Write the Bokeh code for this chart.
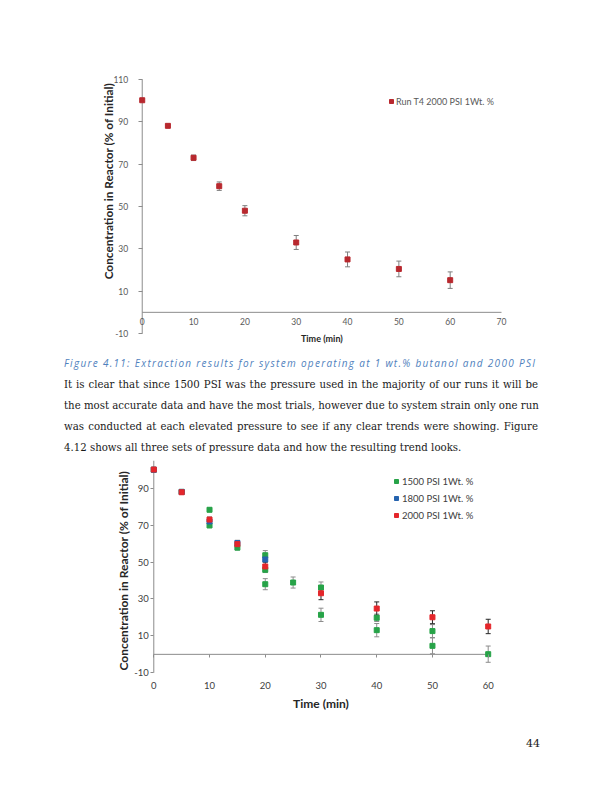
import math
from bokeh.plotting import figure
from bokeh.models import (ColumnDataSource, Whisker, TeeHead, FixedTicker, LinearAxis,
                          Label, Legend, LegendItem, Div, Range1d)
from bokeh.layouts import column
from bokeh.embed import file_html
from bokeh.resources import INLINE

# ---------------- data ----------------
fig1_time = [0, 5, 10, 15, 20, 30, 40, 50, 60]
fig1_conc = [100.2, 88.1, 73.0, 59.6, 48.0, 33.0, 25.0, 20.5, 15.2]
fig1_err = [0.5, 0.5, 1.3, 2.0, 2.4, 3.3, 3.5, 3.7, 3.9]
fig1_series = "Run T4 2000 PSI 1Wt. %"
fig1_xticks = [0, 10, 20, 30, 40, 50, 60, 70]
fig1_yticks = [-10, 10, 30, 50, 70, 90, 110]

psi1500_time = [0, 5, 10, 10, 15, 20, 20, 20, 25, 30, 30, 40, 40, 50, 50, 60]
psi1500_conc = [100, 88, 78.3, 69.8, 57.8, 53.7, 45.8, 38.0, 38.9, 36.2, 21.4, 19.8, 13.1, 12.6, 4.6, 0.1]
psi1500_err = [0.5, 0.5, 1.0, 1.0, 1.2, 2.5, 1.5, 3.0, 3.0, 3.0, 3.6, 2.0, 3.6, 3.5, 4.3, 4.4]

psi1800_time = [0, 5, 10, 15, 20]
psi1800_conc = [100, 88, 72.0, 60.3, 51.4]
psi1800_err = [0.5, 0.5, 1.0, 1.5, 1.5]

psi2000_time = [0, 5, 10, 15, 20, 30, 40, 50, 60]
psi2000_conc = [100.1, 87.8, 73.0, 59.7, 47.6, 33.1, 24.8, 20.1, 15.1]
psi2000_err = [0.5, 0.5, 1.3, 1.6, 2.4, 3.5, 3.6, 3.5, 3.9]

fig2_series = ["1500 PSI 1Wt. %", "1800 PSI 1Wt. %", "2000 PSI 1Wt. %"]
fig2_xticks = [0, 10, 20, 30, 40, 50, 60]
fig2_yticks = [-10, 10, 30, 50, 70, 90]

x_title = "Time (min)"
y_title = "Concentration in Reactor (% of Initial)"
caption = "Figure 4.11: Extraction results for system operating at 1 wt.% butanol and 2000 PSI"
paragraph = [
    "It is clear that since 1500 PSI was the pressure used in the majority of our runs it will be",
    "the most accurate data and have the most trials, however due to system strain only one run",
    "was conducted at each elevated pressure to see if any clear trends were showing. Figure",
    "4.12 shows all three sets of pressure data and how the resulting trend looks.",
]
page_number = "44"

# ---------------- styles ----------------
FONT = "Lato"
AXIS_GRAY = "#8C8C8C"
LABEL_GRAY = "#595959"
DARK = "#404040"
TITLE_COLOR = "#262626"
CROSS = 0  # value where the horizontal axis crosses the vertical one


def err_source(xs, ys, es):
    return ColumnDataSource(dict(x=xs, y=ys,
                                 upper=[y + e for y, e in zip(ys, es)],
                                 lower=[y - e for y, e in zip(ys, es)]))


def add_whisker(p, src, color):
    w = Whisker(source=src, base="x", upper="upper", lower="lower",
                line_color=color, line_width=1, level="underlay",
                upper_head=TeeHead(size=5, line_color=color, line_width=1),
                lower_head=TeeHead(size=5, line_color=color, line_width=1))
    p.add_layout(w)


def style_common(p):
    p.grid.visible = False
    p.outline_line_color = None
    p.background_fill_color = "white"
    p.border_fill_color = None


def style_axis(ax, size, color):
    ax.axis_line_alpha = 0
    ax.major_tick_line_color = AXIS_GRAY
    ax.minor_tick_line_color = None
    ax.major_tick_in = 0
    ax.major_label_text_font = FONT
    ax.major_label_text_font_size = size
    ax.major_label_text_color = color


# ---------------- figure 1 ----------------
p1 = figure(width=596, height=367, output_backend="svg", toolbar_location=None,
            title=None, x_range=Range1d(-8.91, 72.92), y_range=Range1d(-15.67, 116.61),
            min_border_left=96, min_border_right=80, min_border_top=65,
            min_border_bottom=22)
style_common(p1)

# axis lines between the first and last ticks
p1.segment(x0=[fig1_xticks[0]], y0=[fig1_yticks[0]], x1=[fig1_xticks[0]], y1=[fig1_yticks[-1]],
           line_color=AXIS_GRAY, line_width=1)
p1.segment(x0=[fig1_xticks[0]], y0=[CROSS], x1=[fig1_xticks[-1]], y1=[CROSS],
           line_color=AXIS_GRAY, line_width=1)

s1 = err_source(fig1_time, fig1_conc, fig1_err)
add_whisker(p1, s1, "#7F7F7F")
r1 = p1.scatter("x", "y", source=s1, marker="square", size=5,
                fill_color="#B8282E", line_color="#B8282E")

p1.yaxis.ticker = FixedTicker(ticks=fig1_yticks)
p1.xaxis.ticker = FixedTicker(ticks=fig1_xticks)
p1.yaxis.major_label_overrides = {t: str(t) for t in fig1_yticks}
style_axis(p1.xaxis, "8.5px", LABEL_GRAY)
style_axis(p1.yaxis, "8.5px", LABEL_GRAY)
p1.yaxis.fixed_location = fig1_xticks[0]
p1.yaxis.major_tick_out = 4
p1.yaxis.major_label_standoff = 10
p1.xaxis.fixed_location = CROSS
p1.xaxis.major_tick_out = 0
p1.xaxis.major_label_standoff = 6

p1.add_layout(Label(x=fig1_xticks[0], y=62, x_offset=-34, text=y_title, angle=math.pi / 2,
                    text_align="center", text_baseline="middle",
                    text_font=FONT, text_font_style="bold",
                    text_font_size="11.8px", text_color=TITLE_COLOR))
p1.add_layout(Label(x=35, y=fig1_yticks[0], y_offset=-5, text=x_title,
                    text_align="center", text_baseline="middle",
                    text_font=FONT, text_font_style="bold",
                    text_font_size="9px", text_color=TITLE_COLOR))

leg1 = Legend(items=[LegendItem(label=fig1_series, renderers=[r1])],
              location=(290, 238), padding=0, margin=0, spacing=0,
              glyph_width=10, glyph_height=12, label_height=12, label_standoff=0,
              label_width=110,
              background_fill_alpha=0, border_line_alpha=0,
              label_text_font=FONT, label_text_font_size="9px",
              label_text_color=LABEL_GRAY)
p1.add_layout(leg1)

# ---------------- text block ----------------
lines_html = []
lines_html.append(
    f'<div style="position:absolute;left:64px;top:3px;line-height:14px;'
    f'font-family:\'Open Sans\';font-style:italic;font-size:10px;letter-spacing:1.3px;'
    f'color:#4F81BD;white-space:nowrap;">{caption}</div>')
para_tops = [24, 45, 66, 87]
for i, (txt, top) in enumerate(zip(paragraph, para_tops)):
    last = (i == len(paragraph) - 1)
    align = "text-align:left;" if last else "text-align:justify;text-align-last:justify;"
    lines_html.append(
        f'<div style="position:absolute;left:64px;top:{top}px;width:474px;line-height:16px;'
        f'white-space:nowrap;font-family:\'DejaVu Serif\';font-size:10.2px;color:#1a1a1a;{align}">{txt}</div>')
div1 = Div(text='<div style="position:relative;width:596px;height:107px;">' + "".join(lines_html) + "</div>",
           width=596, height=107, margin=(-14, 0, 0, 0))

# ---------------- figure 2 ----------------
p2 = figure(width=596, height=284, output_backend="svg", toolbar_location=None,
            title=None, x_range=Range1d(-10.28, 65.08), y_range=Range1d(-31.5, 105.0),
            min_border_left=96, min_border_right=80, min_border_top=0,
            min_border_bottom=32)
style_common(p2)

p2.segment(x0=[fig2_xticks[0]], y0=[fig2_yticks[0]], x1=[fig2_xticks[0]], y1=[p2.y_range.end],
           line_color=AXIS_GRAY, line_width=1)
p2.segment(x0=[fig2_xticks[0]], y0=[CROSS], x1=[fig2_xticks[-1]], y1=[CROSS],
           line_color=AXIS_GRAY, line_width=1)

green, blue, red = "#27A348", "#2563AE", "#E4262B"
sg = err_source(psi1500_time, psi1500_conc, psi1500_err)
sb = err_source(psi1800_time, psi1800_conc, psi1800_err)
sr = err_source(psi2000_time, psi2000_conc, psi2000_err)
add_whisker(p2, sg, "#8C8C8C")
add_whisker(p2, sb, "#8C8C8C")
add_whisker(p2, sr, "#262626")
rg = p2.scatter("x", "y", source=sg, marker="square", size=5, fill_color=green, line_color=green)
rb = p2.scatter("x", "y", source=sb, marker="square", size=5, fill_color=blue, line_color=blue)
rr = p2.scatter("x", "y", source=sr, marker="square", size=5, fill_color=red, line_color=red)

p2.yaxis.ticker = FixedTicker(ticks=fig2_yticks)
p2.xaxis.ticker = FixedTicker(ticks=fig2_xticks)
p2.yaxis.major_label_overrides = {t: str(t) for t in fig2_yticks}
style_axis(p2.xaxis, "9.5px", DARK)
style_axis(p2.yaxis, "9.5px", DARK)
p2.yaxis.fixed_location = fig2_xticks[0]
p2.yaxis.major_tick_out = 3
p2.yaxis.major_label_standoff = 2
p2.xaxis.fixed_location = fig2_yticks[0]
p2.xaxis.major_tick_line_color = None
p2.xaxis.major_tick_out = 0
p2.xaxis.major_label_standoff = 9

zero_axis = LinearAxis(ticker=FixedTicker(ticks=fig2_xticks), fixed_location=CROSS,
                       axis_line_alpha=0, major_tick_line_color=AXIS_GRAY,
                       major_tick_in=0, major_tick_out=3, minor_tick_line_color=None,
                       major_label_overrides={t: "" for t in fig2_xticks},
                       major_label_standoff=0)
p2.add_layout(zero_axis, "below")

p2.add_layout(Label(x=fig2_xticks[0], y=45.4, x_offset=-30, text=y_title, angle=math.pi / 2,
                    text_align="center", text_baseline="middle",
                    text_font=FONT, text_font_style="bold",
                    text_font_size="12px", text_color=TITLE_COLOR))
p2.add_layout(Label(x=30, y=fig2_yticks[0], y_offset=-30.4, text=x_title,
                    text_align="center", text_baseline="middle",
                    text_font=FONT, text_font_style="bold",
                    text_font_size="12px", text_color=TITLE_COLOR))

leg2 = Legend(items=[LegendItem(label=fig2_series[0], renderers=[rg]),
                     LegendItem(label=fig2_series[1], renderers=[rb]),
                     LegendItem(label=fig2_series[2], renderers=[rr])],
              location=(295, 191), padding=0, margin=0, spacing=5,
              glyph_width=10, glyph_height=12, label_height=12, label_standoff=1,
              label_width=90,
              background_fill_alpha=0, border_line_alpha=0,
              label_text_font=FONT, label_text_font_size="9.5px",
              label_text_color=DARK)
p2.add_layout(leg2)

# ---------------- page number ----------------
div2 = Div(text=f'<div style="position:relative;width:596px;height:45px;">'
                f'<div style="position:absolute;right:56px;top:22px;line-height:16px;'
                f'font-family:\'DejaVu Serif\';font-size:11px;color:#1a1a1a;">{page_number}</div></div>',
           width=596, height=45, margin=(-30, 0, 0, 0))

page = column(p1, div1, p2, div2, spacing=0, margin=0)

with open("out.html", "w") as f:
    f.write(file_html(page, INLINE))
